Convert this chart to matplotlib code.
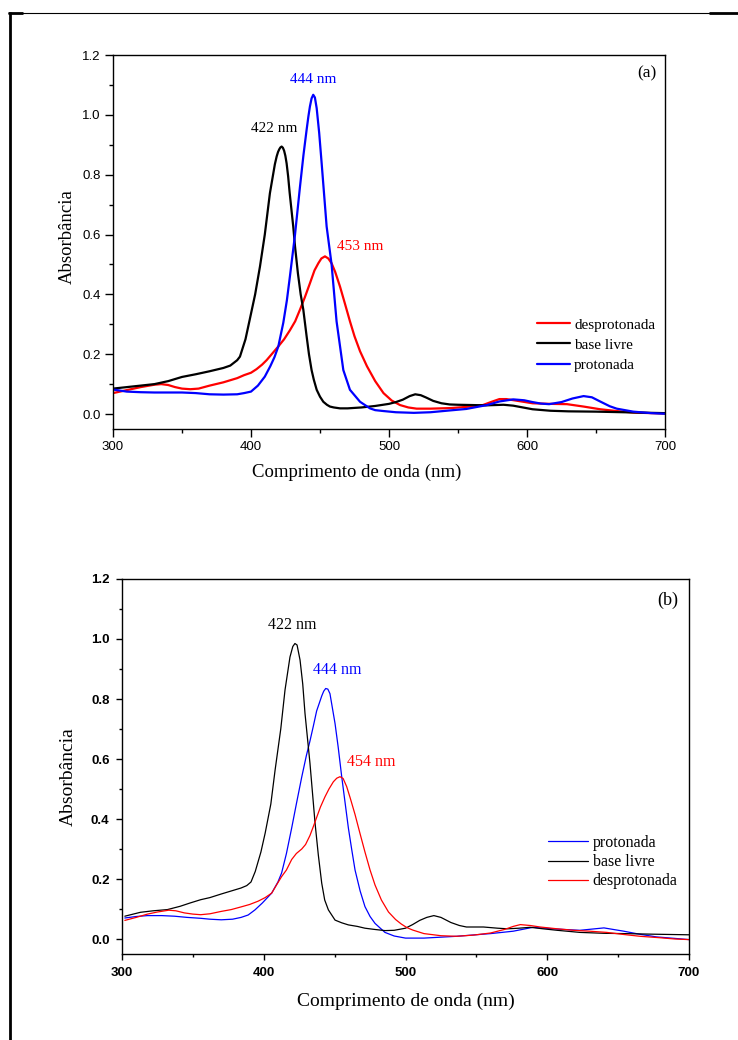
import matplotlib
matplotlib.use("Agg")
import matplotlib.pyplot as plt
from matplotlib.lines import Line2D
from matplotlib.ticker import MultipleLocator, FormatStrFormatter

# ---------------- (a) spectra ----------------
wl_a_base = [300, 310, 320, 330, 340, 350, 360, 370, 380, 385, 390, 392, 396, 399, 403, 406.5,
             410, 413.7, 416, 417.3, 418.6, 419.6, 420.5, 421.3, 422.2, 423.1, 424, 424.9, 425.8,
             426.9, 428, 430.6, 431.9, 434, 436, 437.9, 440.3, 442, 443.9, 445.5, 447.6, 450,
             452.4, 455, 457.2, 460, 464.5, 470, 480, 490, 500, 505, 510, 515, 519, 523, 527, 532,
             538, 544, 550, 561, 570, 583, 590, 597, 604, 617, 630, 650, 670, 690, 700]
abs_a_base = [0.085, 0.090, 0.095, 0.100, 0.110, 0.124, 0.133, 0.143, 0.154, 0.162, 0.180, 0.192,
              0.250, 0.314, 0.400, 0.493, 0.600, 0.738, 0.800, 0.835, 0.861, 0.876, 0.885, 0.891,
              0.894, 0.890, 0.880, 0.863, 0.838, 0.795, 0.740, 0.627, 0.560, 0.470, 0.400, 0.349,
              0.260, 0.200, 0.147, 0.115, 0.081, 0.058, 0.041, 0.031, 0.025, 0.022, 0.019, 0.019,
              0.022, 0.027, 0.034, 0.040, 0.048, 0.060, 0.066, 0.063, 0.055, 0.044, 0.036, 0.032,
              0.031, 0.030, 0.029, 0.031, 0.028, 0.022, 0.016, 0.011, 0.009, 0.008, 0.006, 0.004,
              0.003]

wl_a_prot = [300, 310, 320, 330, 340, 350, 360, 370, 380, 390, 395, 400, 405, 410, 414, 417, 419.8,
             423.4, 426, 428.2, 431.9, 435.5, 438, 440.3, 441.6, 442.7, 443.9, 445.1, 446.3, 447.6,
             449.4, 451.2, 454.8, 458.4, 462, 466.9, 471.7, 479, 486.2, 490, 496, 505, 518, 530,
             544, 556, 571, 580, 590, 598, 604, 610, 616, 625, 633, 641, 647, 653, 660, 665, 677,
             690, 700]
abs_a_prot = [0.082, 0.075, 0.073, 0.072, 0.072, 0.072, 0.070, 0.066, 0.065, 0.066, 0.070, 0.075,
              0.095, 0.125, 0.160, 0.190, 0.226, 0.305, 0.380, 0.460, 0.600, 0.760, 0.865, 0.950,
              0.995, 1.028, 1.055, 1.067, 1.058, 1.022, 0.940, 0.838, 0.627, 0.500, 0.310, 0.147,
              0.081, 0.041, 0.019, 0.013, 0.010, 0.006, 0.004, 0.006, 0.012, 0.017, 0.030, 0.042,
              0.049, 0.046, 0.040, 0.035, 0.033, 0.040, 0.052, 0.060, 0.056, 0.042, 0.026, 0.018,
              0.008, 0.003, 0.001]

wl_a_desp = [300, 310, 320, 330, 335, 340, 345, 350, 356, 362, 370, 380, 390, 395, 400, 404, 408,
             411.3, 415, 419.8, 424, 428.2, 432, 435.5, 439, 442.7, 446, 448.8, 451, 453.6, 456,
             458.4, 461, 464.5, 468, 471.7, 475, 479, 484, 490, 496, 502, 508, 514, 520, 530, 545,
             556, 568, 575, 580, 585, 592, 604, 617, 629, 641, 653, 665, 677, 690, 700]
abs_a_desp = [0.070, 0.080, 0.090, 0.098, 0.100, 0.097, 0.090, 0.085, 0.083, 0.085, 0.095, 0.106,
              0.120, 0.130, 0.138, 0.150, 0.165, 0.180, 0.200, 0.226, 0.250, 0.280, 0.310, 0.349,
              0.390, 0.437, 0.480, 0.504, 0.520, 0.527, 0.520, 0.504, 0.475, 0.426, 0.370, 0.310,
              0.260, 0.210, 0.160, 0.110, 0.070, 0.045, 0.030, 0.022, 0.018, 0.018, 0.020, 0.024,
              0.030, 0.042, 0.050, 0.050, 0.045, 0.036, 0.034, 0.033, 0.025, 0.016, 0.010, 0.005,
              0.003, 0.002]

# ---------------- (b) spectra ----------------
wl_b_base = [302, 313, 322, 332, 341, 348, 355.5, 362, 370, 377, 384, 388, 391, 394, 398, 401, 405,
             408, 412, 415, 418.5, 420.5, 422, 423.5, 425.6, 427.5, 429.1, 432.6, 436.2, 438.5,
             440.9, 443, 445.6, 450.3, 455, 459.7, 466, 471.4, 478, 485.5, 492, 500, 505, 510, 515,
             520, 525, 532, 538, 543, 555, 565, 572, 580, 588, 597, 607, 623, 640, 654, 675, 700]
abs_b_base = [0.076, 0.089, 0.094, 0.098, 0.109, 0.120, 0.131, 0.138, 0.150, 0.160, 0.170, 0.178,
              0.190, 0.225, 0.290, 0.353, 0.450, 0.563, 0.700, 0.830, 0.940, 0.975, 0.985, 0.980,
              0.930, 0.850, 0.752, 0.586, 0.386, 0.280, 0.186, 0.130, 0.097, 0.063, 0.054, 0.047,
              0.042, 0.036, 0.032, 0.028, 0.029, 0.036, 0.048, 0.062, 0.072, 0.078, 0.072, 0.055,
              0.045, 0.040, 0.040, 0.036, 0.034, 0.036, 0.039, 0.034, 0.029, 0.022, 0.019, 0.018,
              0.016, 0.014]

wl_b_prot = [302, 310, 318, 328, 337, 346, 355.5, 362, 370, 378, 384, 389, 393.8, 399, 405.6, 410,
             412.6, 416, 419.7, 423, 426.8, 430, 432.6, 435, 437.3, 440.9, 442.3, 443.7, 445.2,
             446.7, 450.3, 452.5, 455, 457.5, 459.7, 462, 464.4, 468, 471.4, 475, 478.5, 485.5, 492,
             500, 513, 536, 560, 576, 590, 607, 623, 640, 654, 665, 677, 690, 700]
abs_b_prot = [0.070, 0.075, 0.078, 0.078, 0.076, 0.072, 0.069, 0.066, 0.064, 0.066, 0.072, 0.080,
              0.097, 0.120, 0.153, 0.190, 0.220, 0.285, 0.370, 0.450, 0.540, 0.610, 0.660, 0.710,
              0.760, 0.810, 0.826, 0.835, 0.833, 0.818, 0.718, 0.640, 0.541, 0.450, 0.370, 0.300,
              0.230, 0.160, 0.108, 0.075, 0.052, 0.022, 0.010, 0.003, 0.003, 0.009, 0.018, 0.026,
              0.039, 0.033, 0.029, 0.037, 0.026, 0.016, 0.007, 0.002, -0.002]

wl_b_desp = [302, 310, 318, 325, 333, 338, 344, 350, 355.5, 362, 370, 377, 384, 390, 396, 401,
             405.6, 409, 412.6, 416, 419.7, 423, 426.8, 429.5, 432.6, 435, 437.3, 440, 443.2, 446,
             449.1, 451.5, 453.8, 456, 458.5, 461, 464.4, 468, 471.4, 475, 478.5, 483, 488, 493,
             497, 501, 505, 513, 525, 536, 548, 560, 570, 576, 581, 588, 595, 607, 618.5, 630, 642,
             654, 665.5, 680, 690, 700]
abs_b_desp = [0.062, 0.072, 0.083, 0.090, 0.096, 0.094, 0.087, 0.083, 0.081, 0.084, 0.092, 0.098,
              0.107, 0.115, 0.126, 0.138, 0.153, 0.180, 0.208, 0.230, 0.265, 0.285, 0.300, 0.315,
              0.345, 0.375, 0.405, 0.440, 0.474, 0.500, 0.524, 0.536, 0.541, 0.535, 0.508, 0.470,
              0.415, 0.350, 0.290, 0.230, 0.180, 0.130, 0.090, 0.065, 0.050, 0.038, 0.030, 0.018,
              0.011, 0.009, 0.013, 0.020, 0.032, 0.042, 0.048, 0.045, 0.040, 0.034, 0.029, 0.026,
              0.022, 0.015, 0.009, 0.004, 0.000, -0.002]

BLUE = "#0000FF"
RED = "#FF0000"
BLACK = "#000000"
SERIF = ["Liberation Serif", "DejaVu Serif"]
SANS = ["Liberation Sans", "DejaVu Sans"]

fig = plt.figure(figsize=(7.38, 10.40), dpi=100)


def fline(x0, y0, x1, y1, lw):
    """Page frame segment given in pixel coordinates (origin top-left)."""
    fig.add_artist(Line2D([x0 / 738, x1 / 738], [1 - y0 / 1040, 1 - y1 / 1040],
                          transform=fig.transFigure, color="black", lw=lw,
                          solid_capstyle="butt"))


fline(8, 12.5, 738, 12.5, 0.8)
fline(8, 13, 23, 13, 2.0)
fline(709, 13.2, 738, 13.2, 2.0)
fline(9.7, 12, 9.7, 1040, 2.0)


def style_axes(ax, tick_size, tick_weight, major_len, minor_len, pad):
    ax.set_xlim(300, 700)
    ax.set_ylim(-0.05, 1.2)
    ax.xaxis.set_major_locator(MultipleLocator(100))
    ax.xaxis.set_minor_locator(MultipleLocator(50))
    ax.yaxis.set_major_locator(MultipleLocator(0.2))
    ax.yaxis.set_minor_locator(MultipleLocator(0.1))
    ax.yaxis.set_major_formatter(FormatStrFormatter("%.1f"))
    ax.tick_params(which="both", direction="out", top=False, right=False, width=1.0)
    ax.tick_params(which="major", length=major_len, pad=pad)
    ax.tick_params(which="minor", length=minor_len)
    for lab in ax.get_xticklabels() + ax.get_yticklabels():
        lab.set_family(SANS)
        lab.set_fontsize(tick_size)
        lab.set_fontweight(tick_weight)
    for sp in ax.spines.values():
        sp.set_linewidth(1.0)


line_kw = dict(solid_joinstyle="round", solid_capstyle="round")

# ---------------- panel (a) ----------------
ax1 = fig.add_axes([113 / 738, 1 - 429 / 1040, 552 / 738, 374 / 1040])
l_desp, = ax1.plot(wl_a_desp, abs_a_desp, color=RED, lw=1.6, label="desprotonada", **line_kw)
l_base, = ax1.plot(wl_a_base, abs_a_base, color=BLACK, lw=1.6, label="base livre", **line_kw)
l_prot, = ax1.plot(wl_a_prot, abs_a_prot, color=BLUE, lw=1.6, label="protonada", **line_kw)
style_axes(ax1, 9.5, "normal", 5.5, 2.8, 3.5)
ax1.set_xlabel("Comprimento de onda (nm)", family=SERIF, fontsize=13.5, va="center")
ax1.xaxis.set_label_coords((357 - 113) / 552, (429 - 472) / 374)
ax1.set_ylabel("Absorbância", family=SERIF, fontsize=13.5, va="center")
ax1.yaxis.set_label_coords((67 - 113) / 552, (429 - 237) / 374)
ax1.legend(handles=[l_desp, l_base, l_prot], loc="upper left",
           bbox_to_anchor=((537 - 113) / 552, (429 - 318) / 374),
           frameon=False, borderpad=0, borderaxespad=0, handlelength=2.15,
           handletextpad=0.28, labelspacing=0.42, prop={"family": SERIF, "size": 11})
ax1.text(416.7, 0.956, "422 nm", color=BLACK, family=SERIF, fontsize=11, ha="center", va="center")
ax1.text(445.3, 1.117, "444 nm", color=BLUE, family=SERIF, fontsize=11, ha="center", va="center")
ax1.text(462, 0.56, "453 nm", color=RED, family=SERIF, fontsize=11, ha="left", va="center")
ax1.text(687, 1.14, "(a)", color=BLACK, family=SERIF, fontsize=12.5, ha="center", va="center")

# ---------------- panel (b) ----------------
ax2 = fig.add_axes([122 / 738, 1 - 954 / 1040, 567 / 738, 375 / 1040])
m_prot, = ax2.plot(wl_b_prot, abs_b_prot, color=BLUE, lw=0.9, label="protonada", **line_kw)
m_base, = ax2.plot(wl_b_base, abs_b_base, color=BLACK, lw=0.9, label="base livre", **line_kw)
m_desp, = ax2.plot(wl_b_desp, abs_b_desp, color=RED, lw=0.9, label="desprotonada", **line_kw)
style_axes(ax2, 9.5, "bold", 4.0, 2.3, 5.0)
ax2.set_xlabel("Comprimento de onda (nm)", family=SERIF, fontsize=14, va="center")
ax2.xaxis.set_label_coords(0.5, (954 - 1001) / 375)
ax2.set_ylabel("Absorbância", family=SERIF, fontsize=14, va="center")
ax2.yaxis.set_label_coords((68 - 122) / 567, (954 - 777) / 375)
ax2.legend(handles=[m_prot, m_base, m_desp], loc="upper left",
           bbox_to_anchor=((548 - 122) / 567, (954 - 835) / 375),
           frameon=False, borderpad=0, borderaxespad=0, handlelength=2.5,
           handletextpad=0.3, labelspacing=0.2, prop={"family": SERIF, "size": 11.5})
ax2.text(419.9, 1.047, "422 nm", color=BLACK, family=SERIF, fontsize=11.5, ha="center", va="center")
ax2.text(452, 0.897, "444 nm", color=BLUE, family=SERIF, fontsize=11.5, ha="center", va="center")
ax2.text(458.5, 0.59, "454 nm", color=RED, family=SERIF, fontsize=11.5, ha="left", va="center")
ax2.text(685, 1.13, "(b)", color=BLACK, family=SERIF, fontsize=13, ha="center", va="center")

fig.savefig("out.png", dpi=100, facecolor="white")
